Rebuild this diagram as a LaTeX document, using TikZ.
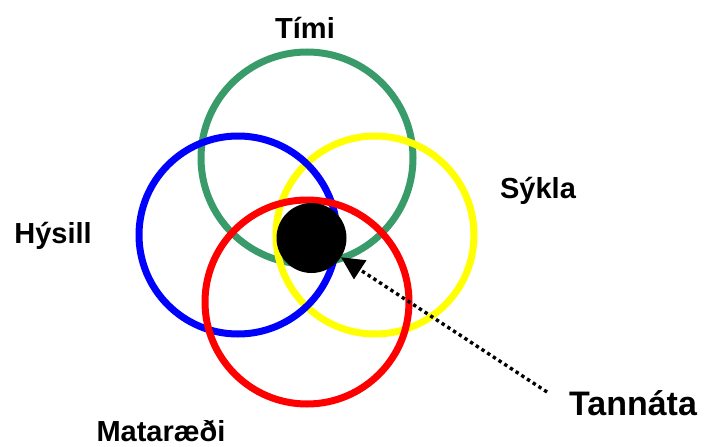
\documentclass[tikz,border=0pt]{standalone}
\usepackage{fontspec}
\setmainfont{Liberation Sans}
\usepackage{xcolor}
\usetikzlibrary{arrows.meta}
\definecolor{timegreen}{HTML}{3A9B6A}
\definecolor{hostblue}{HTML}{0000FF}
\definecolor{germyellow}{HTML}{FFFF00}
\definecolor{dietred}{HTML}{FF0000}
\tikzset{
  ring/.style    = {draw=#1, line width=7pt, fill=none},
  factor/.style  = {font=\fontsize{29}{32}\selectfont\bfseries, inner sep=0pt, anchor=base},
  result/.style  = {font=\fontsize{34}{38}\selectfont\bfseries, inner sep=0pt, anchor=base},
  pointer/.style = {-{Triangle[length=23pt, width=22pt]}, line width=3.4pt,
                    dash pattern=on 3.4pt off 3.4pt},
}

\begin{document}
\begin{tikzpicture}[x=1pt, y=-1pt]
  \useasboundingbox (0,0) rectangle (704,447);

  %% ---------------- the four overlapping rings ----------------------------------------------
  \draw[ring=timegreen]  (307,158) circle (106);
  \draw[ring=germyellow] (375,235) circle (99);
  \draw[ring=hostblue]   (238,235) circle (99);
  \draw[ring=dietred]    (307,302) circle (102);

  %% ---------------- the overlap and its label -----------------------------------------------
  \node[circle, fill=black, minimum size=70pt, inner sep=0pt] (caries) at (311.5,238) {};

  \node[factor] (timi)      at (305,38)  {Tími};
  \node[factor] (sykla)     at (538,198) {Sýkla};
  \node[factor] (hysill)    at (53,243)  {Hýsill};
  \node[factor] (mataraedi) at (161,441) {Mataræði};
  \node[result] (tannata)   at (633,415) {Tannáta};

  \coordinate (tail) at (547,392);
  \draw[pointer] (tail) -- (caries);
\end{tikzpicture}
\end{document}
